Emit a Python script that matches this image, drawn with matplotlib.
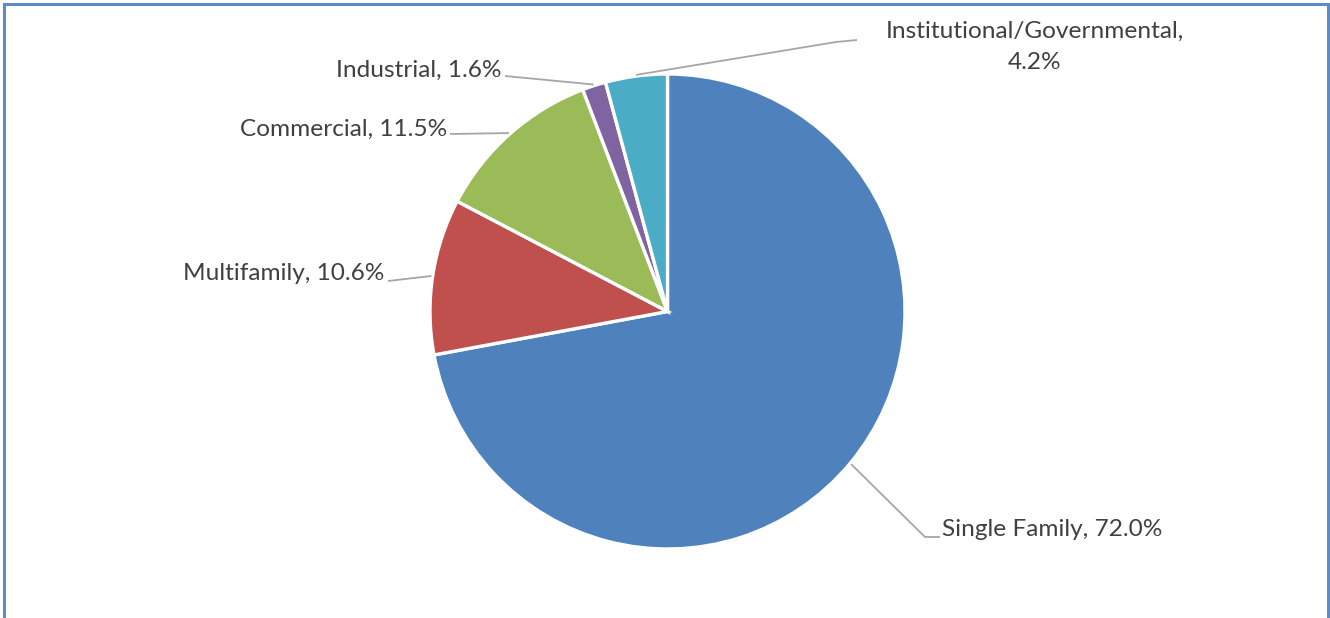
import numpy as np
import matplotlib
matplotlib.use("Agg")
import matplotlib.pyplot as plt
from matplotlib.patches import Rectangle

categories = ["Single Family", "Multifamily", "Commercial", "Industrial", "Institutional/Governmental"]
values = [72.0, 10.6, 11.5, 1.6, 4.2]
label_texts = ["Single Family, 72.0%", "Multifamily, 10.6%", "Commercial, 11.5%",
               "Industrial, 1.6%", "Institutional/Governmental,\n4.2%"]
colors = ["#4F81BD", "#C0504D", "#9BBB59", "#8064A2", "#4BACC6"]

W, H = 1330, 618
fig = plt.figure(figsize=(W / 100, H / 100), dpi=100)
ax = fig.add_axes([0, 0, 1, 1])
ax.set_xlim(0, W)
ax.set_ylim(0, H)
ax.set_aspect("equal")
ax.axis("off")

cx, cy, R = 667.5, H - 311.5, 237.5
wedges, _ = ax.pie(values, colors=colors, startangle=90, counterclock=False,
                   center=(cx, cy), radius=R, frame=True,
                   wedgeprops=dict(edgecolor="white", linewidth=2.4))
ax.set_xlim(0, W)
ax.set_ylim(0, H)
ax.axis("off")

font = dict(family=["Lato", "DejaVu Sans"], fontsize=17.6, color="#404040")
line_kw = dict(color="#A6A6A6", lw=1.3, solid_capstyle="butt")

# label layout: text anchor and leader path points (pixel coords from top)
layout = [
    dict(tx=942, ty=529, ha="left", va="center", path=[(925, 537), (940, 537)]),
    dict(tx=384, ty=273, ha="right", va="center", path=[(388, 281)]),
    dict(tx=447, ty=129, ha="right", va="center", path=[(450, 134)]),
    dict(tx=501, ty=70, ha="right", va="center", path=[(505, 76)]),
    dict(tx=1035, ty=47, ha="center", va="center", path=[(836, 42), (857, 40)]),
]

total = sum(values)
cum = 0.0
for v, txt, lay in zip(values, label_texts, layout):
    mid = 90 - (cum + v / 2) / total * 360
    cum += v
    a = np.deg2rad(mid)
    px, py = cx + R * 1.005 * np.cos(a), cy + R * 1.005 * np.sin(a)
    pts = [(px, py)] + [(x, H - y) for x, y in lay["path"]]
    xs, ys = zip(*pts)
    ax.plot(xs, ys, **line_kw)
    ax.text(lay["tx"], H - lay["ty"], txt, ha=lay["ha"], va=lay["va"],
            linespacing=1.56, **font)

fig.patches.append(Rectangle((4 / W, -0.05), (1328 - 4) / W, (H - 4) / H + 0.05,
                             transform=fig.transFigure, fill=False,
                             edgecolor="#5B8BCB", lw=2.2))

fig.savefig("out.png", dpi=100, facecolor="white")
